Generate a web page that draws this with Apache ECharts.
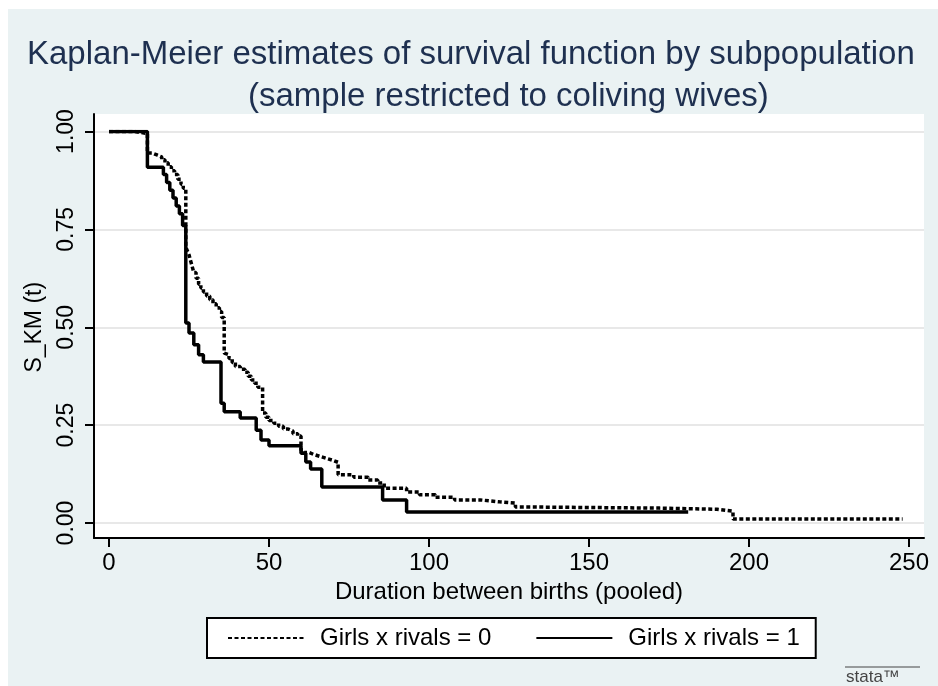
<!DOCTYPE html>
<html>
<head>
<meta charset="utf-8">
<script src="https://cdn.jsdelivr.net/npm/echarts@6/dist/echarts.min.js"></script>
<style>
  body { margin: 0; background: #fff; }
  #chart { position: absolute; left: 8px; top: 9px; width: 930px; height: 677px; }
</style>
</head>
<body>
<div id="chart"></div>
<script>
// Girls x rivals = 0 (dashed)
const time0 = [0, 8, 12, 13.5, 15, 16.5, 17.5, 18.5, 19.5, 20.5, 21.5, 22.5, 23.2,
  24, 24.5, 25, 25.5, 26, 26.5, 27.2, 28, 28.7, 29.5, 30.5, 31.5, 32.5, 33.5, 34.5, 35.2,
  36, 36.5, 37.5, 38.5, 39.5, 41, 42.5, 43.5, 44.5, 45.5, 46.5,
  48, 49, 50, 51.5, 53, 54.5, 56, 57.5, 59,
  60, 61, 62.5, 64, 66, 68, 70,
  71.6, 76.5, 81, 84, 86, 93, 97, 102, 108, 116, 122, 127, 130,
  172, 190, 195, 248];
const surv0 = [1, 0.995, 0.945, 0.94, 0.935, 0.928, 0.92, 0.91, 0.9, 0.89, 0.878, 0.865, 0.855,
  0.705, 0.695, 0.685, 0.67, 0.655, 0.64, 0.625, 0.61, 0.6, 0.59, 0.58, 0.57, 0.56, 0.55, 0.54, 0.525,
  0.434, 0.43, 0.42, 0.41, 0.4, 0.393, 0.385, 0.375, 0.365, 0.357, 0.347,
  0.281, 0.27, 0.262, 0.255, 0.247, 0.24, 0.235, 0.228, 0.222,
  0.186, 0.18, 0.175, 0.17, 0.165, 0.16, 0.155,
  0.123, 0.117, 0.11, 0.102, 0.089, 0.079, 0.072, 0.066, 0.059, 0.054, 0.051, 0.041, 0.038,
  0.035, 0.03, 0.01, 0.01];

// Girls x rivals = 1 (solid)
const time1 = [0, 12, 17, 18, 19, 20, 21, 22, 23, 24, 25, 26.5, 28, 29.5, 35, 36, 41, 46, 47.5, 50, 60, 61.5,
  63, 66.5, 85.5, 93, 181];
const surv1 = [1, 0.909, 0.89, 0.87, 0.85, 0.83, 0.81, 0.79, 0.76, 0.511, 0.485, 0.455, 0.43, 0.411, 0.306, 0.284,
  0.268, 0.237, 0.212, 0.197, 0.178, 0.156, 0.138, 0.092, 0.059, 0.028, 0.028];

const seriesNames = ['Girls x rivals = 0', 'Girls x rivals = 1'];
const titleLines = ['Kaplan-Meier estimates of survival function by subpopulation', '(sample restricted to coliving wives)'];

const font = 'Arial, "Liberation Sans", sans-serif';

function zip(t, s) {
  let data = [];
  t.forEach((v, i) => data.push([v, s[i]]));
  return data;
}

const myChart = echarts.init(document.getElementById('chart'));
myChart.setOption({
  animation: false,
  backgroundColor: '#eaf2f3',
  textStyle: { fontFamily: font },
  title: [
    { text: titleLines[0], left: 19, top: 29, padding: 0,
      textStyle: { fontSize: 33, fontWeight: 'normal', color: '#1e3050', fontFamily: font } },
    { text: titleLines[1], left: 240, top: 71, padding: 0,
      textStyle: { fontSize: 33, fontWeight: 'normal', color: '#1e3050', fontFamily: font } }
  ],
  legend: {
    data: seriesNames,
    left: 199, top: 609,
    padding: [8, 16, 8, 20],
    itemWidth: 76, itemHeight: 14, itemGap: 44,
    backgroundColor: '#fff',
    borderColor: '#000', borderWidth: 2,
    itemStyle: { opacity: 0 },
    textStyle: { fontSize: 24, color: '#000', fontFamily: font, padding: [0, 0, 0, 11] }
  },
  grid: [
    // plot region (white) with the axis lines
    { left: 86, right: 14, top: 105, bottom: 148, show: true, backgroundColor: '#fff', borderWidth: 0 },
    // y ticks and grid lines, full width
    { left: 86, right: 14, top: 122.5, bottom: 163 },
    // data
    { left: 101, right: 29, top: 122.5, bottom: 163 }
  ],
  xAxis: [
    { gridIndex: 0, type: 'value', min: 0, max: 1,
      axisLine: { show: true, onZero: false, lineStyle: { color: '#000', width: 2 } },
      axisTick: { show: false }, axisLabel: { show: false }, splitLine: { show: false } },
    { gridIndex: 1, type: 'value', min: 0, max: 1, show: false },
    { gridIndex: 2, type: 'value', min: 0, max: 250, interval: 50, offset: 15,
      name: 'Duration between births (pooled)', nameLocation: 'middle', nameGap: 37,
      nameTextStyle: { fontSize: 24, color: '#000', fontFamily: font },
      axisLine: { show: false, onZero: false },
      axisTick: { show: true, length: 9, lineStyle: { color: '#000', width: 2 } },
      axisLabel: { fontSize: 24, color: '#000', margin: 13, fontFamily: font },
      splitLine: { show: false } }
  ],
  yAxis: [
    { gridIndex: 0, type: 'value', min: 0, max: 1,
      axisLine: { show: true, onZero: false, lineStyle: { color: '#000', width: 2 } },
      axisTick: { show: false }, axisLabel: { show: false }, splitLine: { show: false } },
    { gridIndex: 1, type: 'value', min: 0, max: 1, interval: 0.25,
      name: 'S_KM (t)', nameLocation: 'middle', nameGap: 48, nameRotate: 90,
      nameTextStyle: { fontSize: 23, color: '#000', fontFamily: font },
      axisLine: { show: false },
      axisTick: { show: true, length: 9, lineStyle: { color: '#000', width: 2 } },
      axisLabel: { rotate: 90, fontSize: 23, color: '#000', margin: 16, fontFamily: font,
        formatter: v => v.toFixed(2) },
      splitLine: { show: true, lineStyle: { color: '#e8e8e8', width: 2 } } },
    { gridIndex: 2, type: 'value', min: 0, max: 1, show: false }
  ],
  series: [
    { name: seriesNames[0], type: 'line', xAxisIndex: 2, yAxisIndex: 2, step: 'end',
      symbol: 'none', z: 3, data: zip(time0, surv0),
      itemStyle: { color: '#000' },
      lineStyle: { color: '#000', width: 3.5, type: [4, 2.5] } },
    { name: seriesNames[1], type: 'line', xAxisIndex: 2, yAxisIndex: 2, step: 'end',
      symbol: 'none', z: 2, data: zip(time1, surv1),
      itemStyle: { color: '#000' },
      lineStyle: { color: '#000', width: 3.5 } }
  ],
  graphic: [
    { type: 'line', shape: { x1: 837, y1: 658, x2: 912, y2: 658 }, style: { stroke: '#444', lineWidth: 1 } },
    { type: 'text', x: 838, y: 660, style: { text: 'stata™', fill: '#444', font: '17px ' + font } }
  ]
});
</script>
</body>
</html>
